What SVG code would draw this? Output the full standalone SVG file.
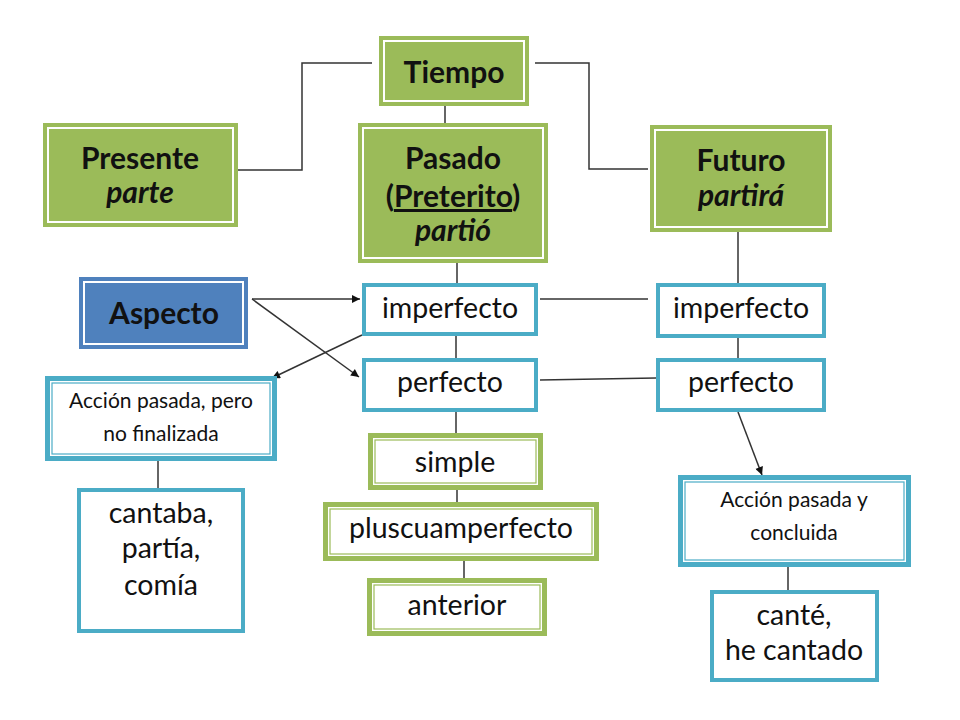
<svg xmlns="http://www.w3.org/2000/svg" width="960" height="720" viewBox="0 0 960 720">
<defs>
<style>
.gf{fill:#9BBB59;}
.bf{fill:#4F81BD;}
.wl{fill:none;stroke:#ffffff;stroke-width:2;}
.bs{fill:#ffffff;stroke:#4BACC6;stroke-width:4;}
.bd{fill:#ffffff;stroke:#4BACC6;stroke-width:5;}
.bdi{fill:none;stroke:#4BACC6;stroke-width:1.2;}
.gd{fill:#ffffff;stroke:#9BBB59;stroke-width:5;}
.gdi{fill:none;stroke:#9BBB59;stroke-width:1.2;}
text{font-family:Lato,"Liberation Sans",sans-serif;fill:#111111;text-anchor:middle;}
.t{font-size:28.5px;}
.tb{font-size:30px;font-weight:bold;}
.ti{font-size:30px;font-weight:bold;font-style:italic;}
.ts{font-size:21px;}
.c{fill:none;stroke:#333333;stroke-width:1.5;}
</style>
<marker id="ah" viewBox="0 0 10 10" refX="10" refY="5" markerWidth="10" markerHeight="8" markerUnits="userSpaceOnUse" orient="auto">
<path d="M0,0 L10,5 L0,10 z" fill="#111111"/>
</marker>
</defs>
<rect width="960" height="720" fill="#ffffff"/>
<g id="connectors">
<polyline class="c" points="372,63 302,63 302,170 238,170"/>
<polyline class="c" points="535,63 589,63 589,169 648,169"/>
<line class="c" x1="445" y1="106" x2="445" y2="123"/>
<line class="c" x1="457" y1="263" x2="457" y2="283"/>
<line class="c" x1="456" y1="336" x2="456" y2="358"/>
<line class="c" x1="456" y1="412" x2="456" y2="433"/>
<line class="c" x1="457" y1="490" x2="457" y2="502"/>
<line class="c" x1="464" y1="561" x2="464" y2="578"/>
<line class="c" x1="540" y1="299" x2="648" y2="299"/>
<line class="c" x1="540" y1="380" x2="656" y2="378"/>
<line class="c" x1="738" y1="232" x2="738" y2="283"/>
<line class="c" x1="738" y1="338" x2="738" y2="358"/>
<line class="c" x1="738" y1="412" x2="762" y2="475" marker-end="url(#ah)"/>
<line class="c" x1="788" y1="567" x2="788" y2="590"/>
<line class="c" x1="252" y1="299" x2="360" y2="299" marker-end="url(#ah)"/>
<line class="c" x1="252" y1="299" x2="359" y2="377" marker-end="url(#ah)"/>
<line class="c" x1="362" y1="335" x2="272" y2="378" marker-end="url(#ah)"/>
<line class="c" x1="158" y1="461" x2="158" y2="488"/>
</g>
<g id="tiempo">
<rect class="gf" x="379" y="36" width="150" height="70"/>
<rect class="wl" x="384" y="41" width="140" height="60"/>
<text class="tb" x="454" y="83">Tiempo</text>
</g>
<g id="presente">
<rect class="gf" x="43" y="123" width="195" height="104"/>
<rect class="wl" x="48" y="128" width="185" height="94"/>
<text class="tb" x="140" y="169">Presente</text>
<text class="ti" x="140" y="203">parte</text>
</g>
<g id="pasado">
<rect class="gf" x="358" y="123" width="190" height="140"/>
<rect class="wl" x="363" y="128" width="180" height="130"/>
<text class="tb" x="453" y="169">Pasado</text>
<text class="tb" x="453" y="207">(<tspan text-decoration="underline">Preterito</tspan>)</text>
<text class="ti" x="453" y="241">partió</text>
</g>
<g id="futuro">
<rect class="gf" x="650" y="125" width="182" height="107"/>
<rect class="wl" x="655" y="130" width="172" height="97"/>
<text class="tb" x="741" y="171">Futuro</text>
<text class="ti" x="741" y="206">partirá</text>
</g>
<g id="aspecto">
<rect class="bf" x="79" y="277" width="169" height="72"/>
<rect class="wl" x="84" y="282" width="159" height="62"/>
<text class="tb" x="164" y="324">Aspecto</text>
</g>
<g id="imperfecto-pasado">
<rect class="bs" x="364" y="285" width="172" height="49"/>
<text class="t" x="450" y="318">imperfecto</text>
</g>
<g id="perfecto-pasado">
<rect class="bs" x="364" y="360" width="172" height="50"/>
<text class="t" x="450" y="392">perfecto</text>
</g>
<g id="imperfecto-futuro">
<rect class="bs" x="658" y="285" width="166" height="51"/>
<text class="t" x="741" y="318">imperfecto</text>
</g>
<g id="perfecto-futuro">
<rect class="bs" x="658" y="360" width="166" height="50"/>
<text class="t" x="741" y="392">perfecto</text>
</g>
<g id="accion-no-finalizada">
<rect class="bd" x="47.5" y="378.5" width="227" height="80"/>
<rect class="bdi" x="52" y="383" width="218" height="71"/>
<text class="ts" x="161" y="408">Acción pasada, pero</text>
<text class="ts" x="161" y="441">no finalizada</text>
</g>
<g id="cantaba">
<rect class="bs" x="79" y="490" width="164" height="141"/>
<text class="t" x="161" y="523">cantaba,</text>
<text class="t" x="161" y="558">partía,</text>
<text class="t" x="161" y="595">comía</text>
</g>
<g id="simple">
<rect class="gd" x="370.5" y="435.5" width="170" height="52"/>
<rect class="gdi" x="375" y="440" width="161" height="43"/>
<text class="t" x="455" y="472">simple</text>
</g>
<g id="pluscuamperfecto">
<rect class="gd" x="325.5" y="504.5" width="271" height="54"/>
<rect class="gdi" x="330" y="509" width="262" height="45"/>
<text class="t" x="461" y="538">pluscuamperfecto</text>
</g>
<g id="anterior">
<rect class="gd" x="369.5" y="580.5" width="175" height="53"/>
<rect class="gdi" x="374" y="585" width="166" height="44"/>
<text class="t" x="457" y="615">anterior</text>
</g>
<g id="accion-concluida">
<rect class="bd" x="680.5" y="477.5" width="228" height="87"/>
<rect class="bdi" x="685" y="482" width="219" height="78"/>
<text class="ts" x="794" y="507">Acción pasada y</text>
<text class="ts" x="794" y="540">concluida</text>
</g>
<g id="cante">
<rect class="bs" x="712" y="592" width="165" height="88"/>
<text class="t" x="794" y="625">canté,</text>
<text class="t" x="794" y="660">he cantado</text>
</g>
</svg>
